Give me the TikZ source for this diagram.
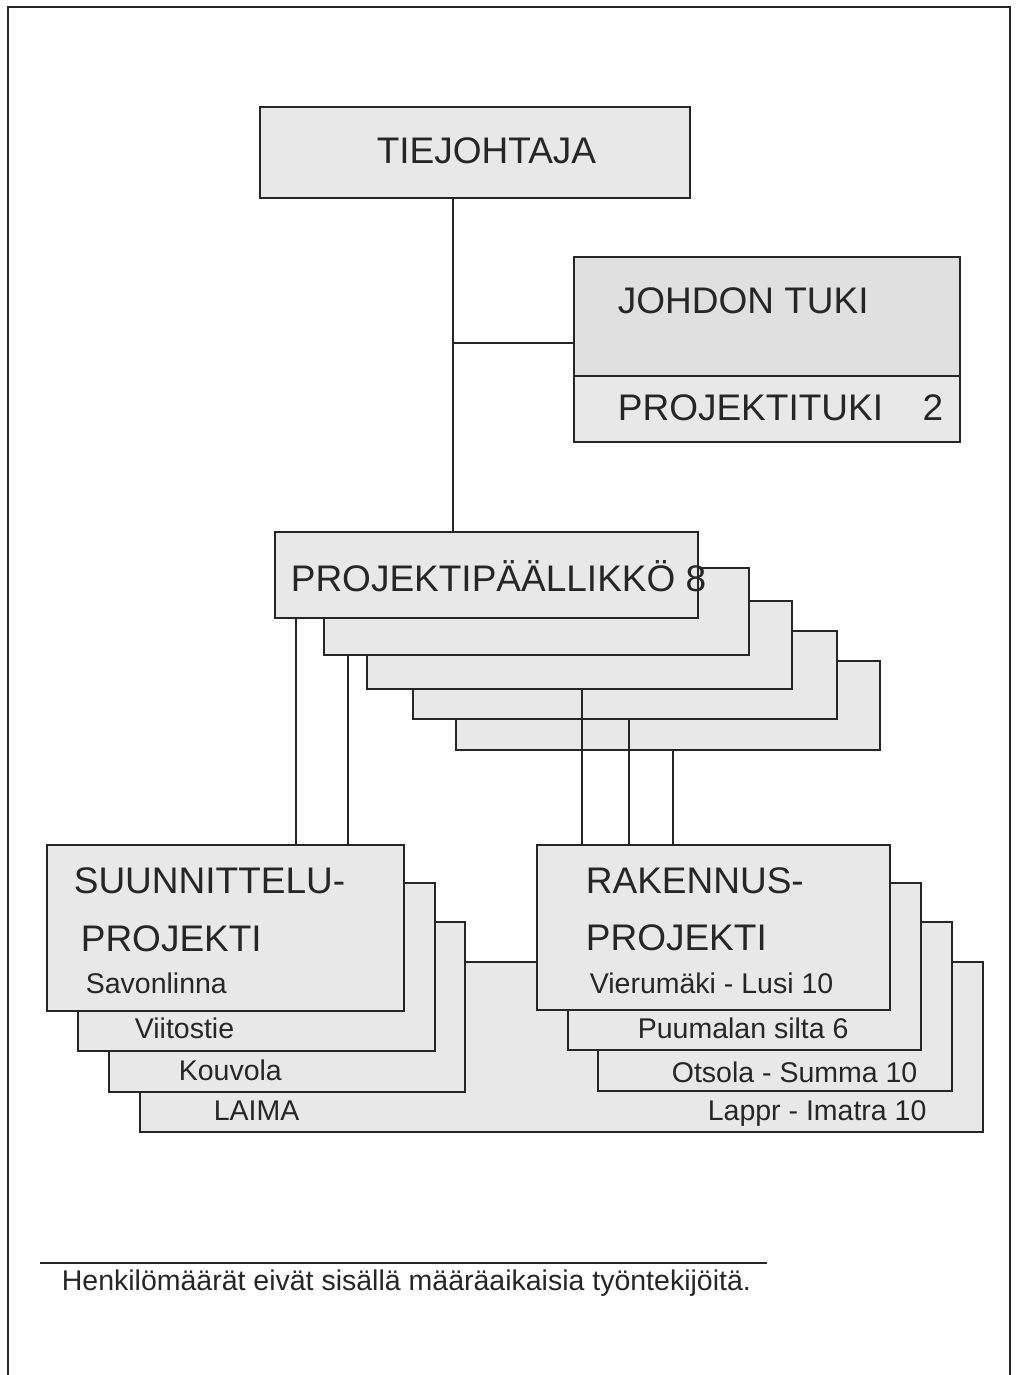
\documentclass[tikz,border=0pt]{standalone}
\usepackage{fontspec}
\setmainfont{Liberation Sans}
\usetikzlibrary{fit}
\newcommand{\BigTxt}{\fontsize{37}{41}\selectfont}
\newcommand{\SmallTxt}{\fontsize{28.5}{32}\selectfont}
\begin{document}
\begin{tikzpicture}[x=1pt,y=-1pt,
  line width=1.7pt,
  box/.style={draw=black!85, fill=black!9, inner sep=0pt, line width=1.7pt},
  bigt/.style={anchor=base west, inner sep=0pt, font=\BigTxt, text=black!85},
  smallt/.style={anchor=base west, inner sep=0pt, font=\SmallTxt, text=black!85},
  link/.style={draw=black!85, line width=1.7pt}]
\fill[white] (0,0) rectangle (1018,1375);
\useasboundingbox (0,0) rectangle (1018,1375);
% outer frame
\draw[black!85, line width=2pt] (8,1380) -- (8,7) -- (1010,7) -- (1010,1380);

% top boxes
\node[box, fit={(260,107) (690,198)}] (tj) {};
\node[box, fill=black!12, fit={(574,257) (960,376)}] (jtA) {};
\node[box, fit={(574,376) (960,442)}] (jtB) {};
\node[bigt] (ttj) at (376,164) {TIEJOHTAJA};
\node[bigt] (tjt) at (617,313) {JOHDON TUKI};
\node[bigt] (tpt) at (617,420) {PROJEKTITUKI};
\node[bigt, anchor=base east] (tpt2) at (944,420) {2};

% project manager stack
\node[box, fit={(456,661) (880,750)}] (pp5) {};
\node[box, fit={(413,631) (837,719)}] (pp4) {};
\node[box, fit={(367,601) (792,689)}] (pp3) {};
\node[box, fit={(324,568) (749,655)}] (pp2) {};
\node[box, fit={(275,532) (698,618)}] (pp1) {};
\node[bigt] (tpp) at (290,591) {PROJEKTIPÄÄLLIKKÖ 8};

% lower stacks
\node[box, fit={(140,962) (983,1132)}] (big) {};
\node[box, fit={(109,922) (465,1092)}] (su3) {};
\node[box, fit={(78,883) (435,1051)}] (su2) {};
\node[box, fit={(47,845) (404,1011)}] (su1) {};
\node[box, fit={(598,922) (952,1091)}] (rk3) {};
\node[box, fit={(568,883) (921,1050)}] (rk2) {};
\node[box, fit={(537,845) (890,1010)}] (rk1) {};

\node[bigt] (ts1) at (73,893) {SUUNNITTELU-};
\node[bigt] (ts2) at (80,951) {PROJEKTI};
\node[smallt] (ts3) at (85,993) {Savonlinna};
\node[smallt] (ts4) at (134,1038) {Viitostie};
\node[smallt] (ts5) at (178,1080) {Kouvola};
\node[smallt] (ts6) at (213,1120) {LAIMA};

\node[bigt] (tr1) at (585,893) {RAKENNUS-};
\node[bigt] (tr2) at (585,950) {PROJEKTI};
\node[smallt] (tr3) at (589,993) {Vierumäki - Lusi 10};
\node[smallt] (tr4) at (637,1038) {Puumalan silta 6};
\node[smallt] (tr5) at (671,1082) {Otsola - Summa 10};
\node[smallt] (tr6) at (707,1120) {Lappr - Imatra 10};

% connectors
\coordinate (spine) at (453,343);
\draw[link] (tj.south -| spine) -- (pp1.north -| spine);
\draw[link] (spine) -- (spine -| jtA.west);
\draw[link] ([xshift=22pt]pp1.south west) -- ([xshift=22pt]pp1.south west |- su1.north);
\draw[link] ([xshift=25pt]pp2.south west) -- ([xshift=25pt]pp2.south west |- su1.north);
\draw[link] ([xshift=216pt]pp3.south west) -- ([xshift=216pt]pp3.south west |- rk1.north);
\draw[link] ([xshift=217pt]pp4.south west) -- ([xshift=217pt]pp4.south west |- rk1.north);
\draw[link] ([xshift=218pt]pp5.south west) -- ([xshift=218pt]pp5.south west |- rk1.north);

% footnote
\draw[black!85, line width=1.7pt] (40,1263) -- (767,1263);
\node[smallt] (foot) at (61,1290) {Henkilömäärät eivät sisällä määräaikaisia työntekijöitä.};
\end{tikzpicture}
\end{document}
